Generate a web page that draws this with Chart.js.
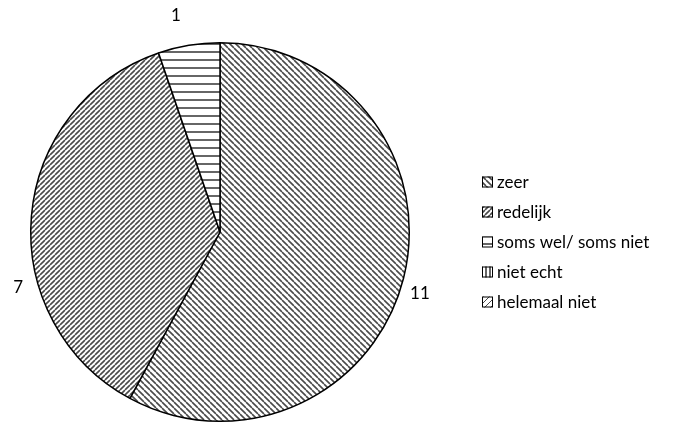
<!DOCTYPE html>
<html>
<head>
<meta charset="utf-8">
<script src="https://cdn.jsdelivr.net/npm/chart.js@4"></script>
<style>
  html, body { margin: 0; padding: 0; background: #fff; }
  #wrap { width: 689px; height: 423px; }
</style>
</head>
<body>
<div id="wrap"><canvas id="pieChart" width="689" height="423"></canvas></div>
<script>
// data
const categories = ['zeer', 'redelijk', 'soms wel/ soms niet', 'niet echt', 'helemaal niet'];
const counts = [11, 7, 1, 0, 0];

// make a small striped tile for each slice
function makePattern(kind) {
    const c = document.createElement('canvas');
    const ctx = c.getContext('2d');
    let size = 6;
    if (kind === 'fine') size = 5;
    if (kind === 'horiz') size = 8;
    if (kind === 'vert') size = 4;
    c.width = size; c.height = size;
    ctx.fillStyle = '#fff';
    ctx.fillRect(0, 0, size, size);
    ctx.strokeStyle = '#4a4a4a';
    ctx.lineWidth = 1.6;
    ctx.beginPath();
    if (kind === 'back') {
        // "\" lines
        for (let k = -1; k <= 1; k++) {
            ctx.moveTo(k * size, 0);
            ctx.lineTo(k * size + size, size);
        }
    } else if (kind === 'fine') {
        // "/" lines
        for (let k = -1; k <= 1; k++) {
            ctx.moveTo(k * size, size);
            ctx.lineTo(k * size + size, 0);
        }
    } else if (kind === 'horiz') {
        ctx.strokeStyle = '#333';
        ctx.lineWidth = 1.5;
        ctx.moveTo(0, 4); ctx.lineTo(size, 4);
    } else if (kind === 'vert') {
        ctx.strokeStyle = '#333';
        ctx.lineWidth = 1.5;
        ctx.moveTo(2, 0); ctx.lineTo(2, size);
    } else {
        ctx.lineWidth = 1;
        ctx.moveTo(0, size); ctx.lineTo(size, 0);
    }
    ctx.stroke();
    return ctx.createPattern(c, 'repeat');
}

const fills = [makePattern('back'), makePattern('fine'), makePattern('horiz'), makePattern('vert'), makePattern('dots')];

// value labels outside the slices
const outsideLabels = {
    id: 'outsideLabels',
    afterDatasetsDraw(chart, args, opts) {
        const ctx = chart.ctx;
        const meta = chart.getDatasetMeta(0);
        ctx.save();
        ctx.font = '17px Lato, "Open Sans", sans-serif';
        ctx.fillStyle = '#000';
        ctx.textAlign = 'center';
        ctx.textBaseline = 'middle';
        meta.data.forEach((arc, i) => {
            if (!counts[i]) return;
            const p = arc.getProps(['x', 'y', 'startAngle', 'endAngle', 'outerRadius'], true);
            const a = (p.startAngle + p.endAngle) / 2 + (opts.shift[i] || 0) * Math.PI / 180;
            const r = p.outerRadius + opts.gap[i];
            ctx.fillText(String(counts[i]), p.x + Math.cos(a) * r, p.y + Math.sin(a) * r);
        });
        ctx.restore();
    }
};

// legend on the right, drawn by hand
const sideLegend = {
    id: 'sideLegend',
    afterDraw(chart, args, opts) {
        const ctx = chart.ctx;
        ctx.save();
        ctx.font = '17px Lato, "Open Sans", sans-serif';
        ctx.textBaseline = 'middle';
        categories.forEach((name, i) => {
            const y = opts.top + i * opts.step;
            ctx.fillStyle = fills[i];
            ctx.fillRect(opts.x, y - 5.5, 11, 11);
            ctx.strokeStyle = '#000';
            ctx.lineWidth = 1;
            ctx.strokeRect(opts.x + 0.5, y - 5, 10, 10);
            ctx.fillStyle = '#000';
            ctx.fillText(name, opts.x + 15, y + 1);
        });
        ctx.restore();
    }
};

new Chart(document.getElementById('pieChart'), {
    type: 'pie',
    data: {
        labels: categories,
        datasets: [{
            data: counts,
            backgroundColor: fills,
            borderColor: '#000',
            borderWidth: 1.5
        }]
    },
    options: {
        responsive: false,
        animation: false,
        layout: { padding: { left: 30, right: 279, top: 42, bottom: 1 } },
        plugins: {
            legend: { display: false },
            tooltip: { enabled: false },
            outsideLabels: { shift: [3, -20, -2], gap: [20, 20, 32] },
            sideLegend: { x: 482, top: 182, step: 30 }
        }
    },
    plugins: [outsideLabels, sideLegend]
});
</script>
</body>
</html>
